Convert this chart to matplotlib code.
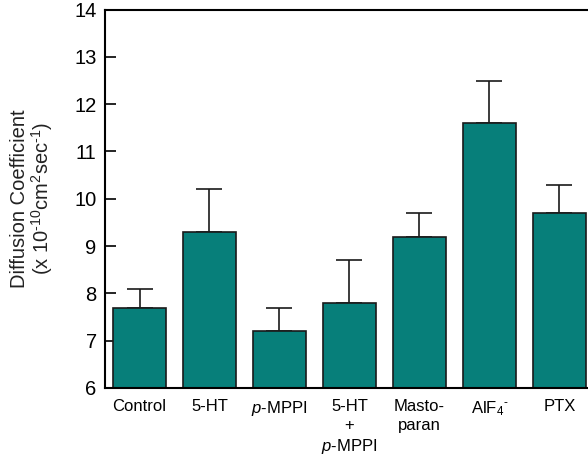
import matplotlib
matplotlib.use("Agg")
import matplotlib.pyplot as plt
import numpy as np

plt.rcParams['font.family'] = ['Liberation Sans', 'DejaVu Sans']
plt.rcParams['mathtext.fontset'] = 'custom'
plt.rcParams['mathtext.rm'] = 'Liberation Sans'
plt.rcParams['mathtext.it'] = 'Liberation Sans:italic'
plt.rcParams['mathtext.default'] = 'regular'

HY = '\u2010'  # short hyphen instead of the wide math minus

# data
labels = ['Control', '5-HT', '$\\it{p}$-MPPI', '5-HT\n+\n$\\it{p}$-MPPI',
          'Masto-\nparan', 'AlF$_4$$^{' + HY + '}$', 'PTX']
means = [7.7, 9.3, 7.2, 7.8, 9.2, 11.6, 9.7]
errors = [0.4, 0.9, 0.5, 0.9, 0.5, 0.9, 0.6]

fig = plt.figure(figsize=(5.88, 4.57), dpi=100)
ax = fig.add_axes([0.1786, 0.151, 0.8214, 0.828])

x = np.arange(len(means))
ax.bar(x, means, width=0.757, bottom=0, color='#077f7a', edgecolor='#1a1a1a',
       linewidth=1.2, zorder=2)
ax.errorbar(x, means, yerr=[np.zeros(len(errors)), errors], fmt='none',
            ecolor='#1a1a1a', elinewidth=1.2, capsize=9.5, capthick=1.2, zorder=1)

ax.set_ylim(6, 14)
ax.set_xlim(-0.493, 6.41)
ax.set_yticks(range(6, 15))
ax.set_xticks(x)
ax.set_xticklabels(labels, fontsize=12, linespacing=1.3, va='top')
ax.tick_params(axis='x', length=0, pad=8)
ax.tick_params(axis='y', direction='in', length=8, width=1.2, labelsize=14.5, pad=6)

for s in ['left', 'bottom', 'top']:
    ax.spines[s].set_linewidth(1.5)
ax.spines['right'].set_visible(False)

ax.set_ylabel('Diffusion Coefficient\n(x 10$^{' + HY + '10}$cm$^2$sec$^{' + HY + '1}$)',
              fontsize=14.5, linespacing=1.0, labelpad=14, color='#222222')

fig.savefig('out.png', dpi=100)
